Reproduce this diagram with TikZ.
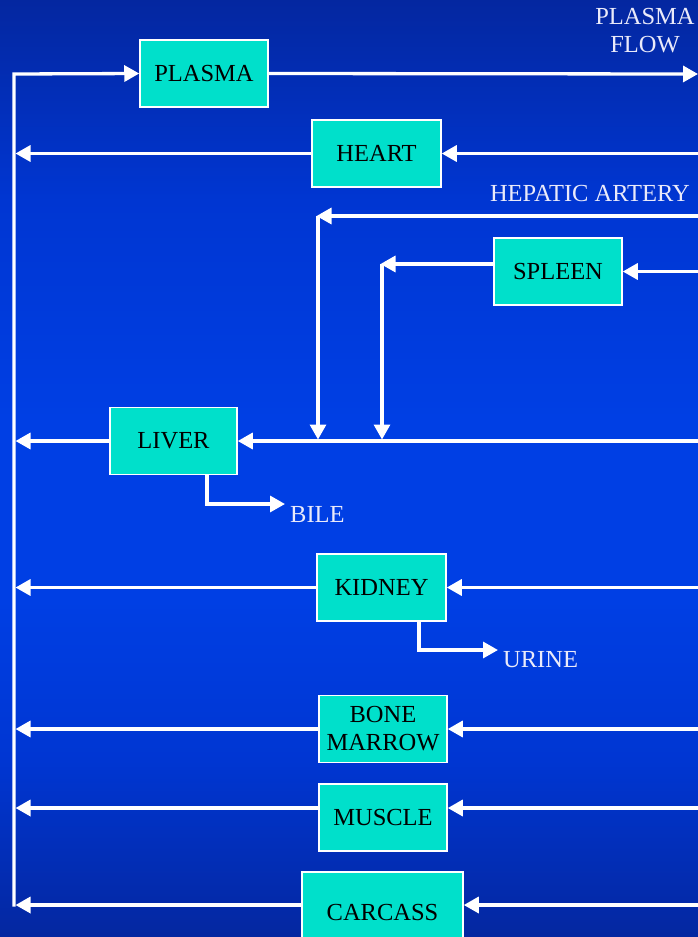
\documentclass[tikz,border=0pt]{standalone}
\usepackage{fontspec}
\setmainfont{Liberation Serif}
\usetikzlibrary{arrows.meta, positioning}
\definecolor{bgdark}{HTML}{0427A0}
\definecolor{bgmid}{HTML}{0036D2}
\definecolor{bglight}{HTML}{003FE4}
\definecolor{organfill}{HTML}{00E0CB}
\definecolor{labelwhite}{HTML}{EAEAFA}
\pgfdeclareverticalshading{slideblue}{100bp}{color(0bp)=(bgdark); color(25bp)=(bgdark); color(34.4bp)=(bgmid); color(43bp)=(bglight); color(52.6bp)=(bglight); color(64.3bp)=(bgmid); color(75bp)=(bgdark); color(100bp)=(bgdark)}
\tikzset{
   organ/.style={
     draw=white, line width=1.5pt, fill=organfill, text=black,
     minimum width=128pt, minimum height=67pt, inner sep=0pt,
     align=center, font=\fontsize{24.5}{28}\selectfont
   },
   flowline/.style={draw=white, line width=3.3pt, -{Triangle[length=15pt,width=16pt]}},
   outlabel/.style={
     text=labelwhite, inner sep=0pt, align=center,
     font=\fontsize{24.5}{28}\selectfont
   }
}

\begin{document}
\begin{tikzpicture}[x=1pt, y=-1pt]
   \useasboundingbox (0,0) rectangle (698,937);
   \clip (0,0) rectangle (698,937);
   \shade[shading=slideblue] (0,0) rectangle (698,937);

   % compartments
   \node[organ] (plasma) at (204,73.5) {PLASMA};
   \node[organ, minimum width=129pt] (heart) at (376.5,153.5) {HEART};
   \node[organ] (spleen) at (558,271.5) {SPLEEN};
   \node[organ, minimum width=127pt] (liver) at (173.5,441) {LIVER};
   \node[organ, minimum width=129pt] (kidney) at (381.5,587.5) {KIDNEY};
   \node[organ] (marrow) at (383,729) {BONE\\MARROW};
   \node[organ] (muscle) at (383,817.5) {MUSCLE};
   \node[organ, minimum width=161pt, minimum height=80pt] (carcass) at (382.5,912) {CARCASS};

   % texts
   \node[outlabel, anchor=north] (flowlabel) at (645,8) {PLASMA\\FLOW};
   \node[outlabel, anchor=base east] (heplabel) at (690,201) {HEPATIC ARTERY};
   \node[outlabel, anchor=base west] (bile) at (290,522) {BILE};
   \node[outlabel, anchor=base west] (urine) at (503,667) {URINE};

   \coordinate (bustop) at (14,74);
   \coordinate (busbot) at (14,906.5);
   \coordinate (rim) at (701,0);
   \coordinate (outlet) at (698,74);
   \coordinate (hepin) at (701,216);
   \coordinate (hepturn) at (318,216);
   \coordinate (spleenturn) at (382,264);
   \coordinate (bileend) at (285,504);
   \coordinate (urineend) at (498,650);

   % venous return and arterial outflow
   \draw[flowline] (busbot) -- (bustop) -- (plasma.west);
   \draw[flowline] (plasma.east) -- (outlet);

   \draw[flowline] (heart.east -| rim) -- (heart.east);
   \draw[flowline, shorten >=1.5pt] (heart.west) -- (heart.west -| bustop);

   \draw[flowline, shorten >=-1.5pt] (hepin) -- (hepturn);
   \draw[flowline, shorten >=1.5pt] (hepturn) -- (hepturn |- liver.east);

   \draw[flowline] (spleen.east -| rim) -- (spleen.east);
   \draw[flowline, shorten >=-1.5pt] ([yshift=7.5pt]spleen.west) -- (spleenturn);
   \draw[flowline, shorten >=1.5pt] (spleenturn) -- (spleenturn |- liver.east);

   \draw[flowline] (liver.east -| rim) -- (liver.east);
   \draw[flowline, shorten >=1.5pt] (liver.west) -- (liver.west -| bustop);
   \draw[flowline] ([xshift=33.5pt]liver.south) |- (bileend);

   \draw[flowline] (kidney.east -| rim) -- (kidney.east);
   \draw[flowline, shorten >=1.5pt] (kidney.west) -- (kidney.west -| bustop);
   \draw[flowline] ([xshift=37.5pt]kidney.south) |- (urineend);

   \draw[flowline] (marrow.east -| rim) -- (marrow.east);
   \draw[flowline, shorten >=1.5pt] (marrow.west) -- (marrow.west -| bustop);

   \draw[flowline] ([yshift=9.5pt]muscle.east -| rim) -- ([yshift=9.5pt]muscle.east);
   \draw[flowline, shorten >=1.5pt] ([yshift=9.5pt]muscle.west) -- ([yshift=9.5pt]muscle.west -| bustop);

   \draw[flowline] ([yshift=7pt]carcass.east -| rim) -- ([yshift=7pt]carcass.east);
   \draw[flowline, shorten >=1.5pt] ([yshift=7pt]carcass.west) -- ([yshift=7pt]carcass.west -| bustop);
\end{tikzpicture}
\end{document}
